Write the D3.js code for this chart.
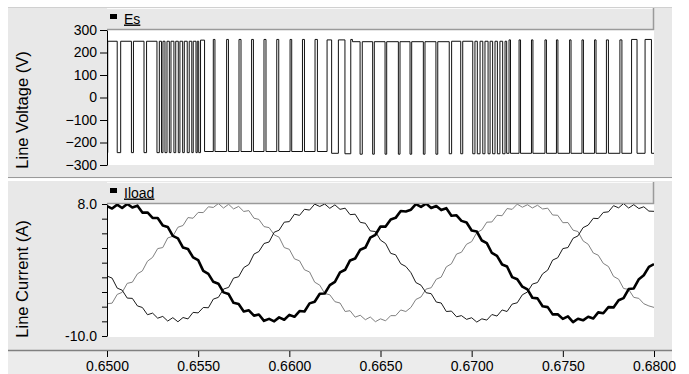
<!DOCTYPE html>
<html>
<head>
<meta charset="utf-8">
<script src="https://cdn.jsdelivr.net/npm/d3@7"></script>
<style>
  body { margin: 0; background: #fff; }
  figure { margin: 0; }
  text { font-family: "Liberation Sans", Arial, sans-serif; fill: #000; }
</style>
</head>
<body>
<figure id="scope"></figure>
<script>
// ---- data ----
const seriesNames = ["Es", "Iload"];

// Es: switching instants (s) and the level (V) held after each one
const esTime = [
  0.65000, 0.65004, 0.65056, 0.65075, 0.65134, 0.65145, 0.65203, 0.65217, 0.65274, 0.65287,
  0.65299, 0.65307, 0.65318, 0.65329, 0.65342, 0.65351, 0.65367, 0.65377, 0.65391, 0.65400,
  0.65415, 0.65424, 0.65440, 0.65451, 0.65465, 0.65473, 0.65488, 0.65495, 0.65503, 0.65513,
  0.65535, 0.65583, 0.65592, 0.65656, 0.65666, 0.65724, 0.65735, 0.65793, 0.65803, 0.65861,
  0.65872, 0.65931, 0.65942, 0.66004, 0.66013, 0.66072, 0.66083, 0.66141, 0.66154, 0.66207,
  0.66232, 0.66269, 0.66305, 0.66337, 0.66346, 0.66388, 0.66400, 0.66457, 0.66466, 0.66525,
  0.66534, 0.66598, 0.66607, 0.66662, 0.66671, 0.66735, 0.66744, 0.66804, 0.66814, 0.66877,
  0.66890, 0.66940, 0.66951, 0.67006, 0.67018, 0.67031, 0.67046, 0.67061, 0.67073, 0.67090,
  0.67101, 0.67115, 0.67128, 0.67141, 0.67155, 0.67170, 0.67183, 0.67192, 0.67205, 0.67213,
  0.67260, 0.67268, 0.67328, 0.67336, 0.67402, 0.67410, 0.67465, 0.67473, 0.67537, 0.67545,
  0.67605, 0.67613, 0.67674, 0.67682, 0.67739, 0.67750, 0.67813, 0.67824, 0.67877, 0.67907,
  0.67951, 0.67986, 0.68000
];
const esLevel = [
  -245, 250, -245, 250, -245, 250, -245, 250, -245, 250,
  -245, 250, -245, 250, -245, 250, -245, 250, -245, 250,
  -245, 250, -245, 250, -245, 250, -245, 250, -245, 255,
  -240, 258, -240, 258, -240, 258, -240, 258, -240, 258,
  -240, 258, -240, 258, -240, 258, -240, 258, -240, 256,
  -248, 256, -250, 258, 248, -252, 248, -252, 248, -252,
  248, -252, 248, -252, 248, -252, 248, -252, 248, -250,
  250, -250, 250, -250, 250, -250, 250, -250, 250, -250,
  250, -250, 250, -250, 250, -250, 250, -248, 256, -248,
  256, -248, 256, -248, 256, -248, 256, -248, 256, -248,
  256, -248, 256, -248, 256, -248, 256, -248, 258, -248,
  258, -248, -248
];

// Iload: sample times (s) and the three line currents (A)
const curTime = [
  0.65000, 0.65028, 0.65056, 0.65083, 0.65111, 0.65139, 0.65167, 0.65194, 0.65222, 0.65250, 0.65278, 0.65306, 0.65333, 0.65361, 0.65389, 0.65417, 0.65444, 0.65472,
  0.65500, 0.65528, 0.65556, 0.65583, 0.65611, 0.65639, 0.65667, 0.65694, 0.65722, 0.65750, 0.65778, 0.65806, 0.65833, 0.65861, 0.65889, 0.65917, 0.65944, 0.65972,
  0.66000, 0.66028, 0.66056, 0.66083, 0.66111, 0.66139, 0.66167, 0.66194, 0.66222, 0.66250, 0.66278, 0.66306, 0.66333, 0.66361, 0.66389, 0.66417, 0.66444, 0.66472,
  0.66500, 0.66528, 0.66556, 0.66583, 0.66611, 0.66639, 0.66667, 0.66694, 0.66722, 0.66750, 0.66778, 0.66806, 0.66833, 0.66861, 0.66889, 0.66917, 0.66944, 0.66972,
  0.67000, 0.67028, 0.67056, 0.67083, 0.67111, 0.67139, 0.67167, 0.67194, 0.67222, 0.67250, 0.67278, 0.67306, 0.67333, 0.67361, 0.67389, 0.67417, 0.67444, 0.67472,
  0.67500, 0.67528, 0.67556, 0.67583, 0.67611, 0.67639, 0.67667, 0.67694, 0.67722, 0.67750, 0.67778, 0.67806, 0.67833, 0.67861, 0.67889, 0.67917, 0.67944, 0.67972,
  0.68000
];
const iloadA = [
  7.72, 7.38, 7.91, 7.45, 8.01, 7.53, 7.77, 6.83, 6.85, 6.11, 6.10, 5.07, 4.88, 3.65, 3.32, 2.06, 1.87, 0.72,
  0.35, -1.12, -1.52, -2.61, -2.87, -4.05, -4.28, -5.47, -5.65, -6.66, -6.50, -7.23, -7.07, -7.93, -7.66, -8.00, -7.46, -7.78,
  -7.12, -7.38, -6.60, -6.66, -5.55, -5.32, -4.23, -4.20, -3.07, -2.61, -1.32, -0.97, 0.30, 0.57, 1.77, 2.06, 3.42, 3.80,
  4.93, 4.92, 5.90, 6.11, 7.05, 6.98, 7.22, 7.98, 7.61, 8.05, 7.46, 7.73, 7.17, 7.43, 6.40, 6.46, 5.70, 5.47,
  4.38, 4.25, 3.02, 2.66, 1.32, 0.92, -0.25, -0.52, -1.97, -2.26, -3.27, -3.65, -4.78, -4.87, -5.95, -6.06, -7.05, -7.03,
  -7.67, -7.33, -8.11, -7.65, -7.86, -7.38, -7.62, -6.78, -6.90, -6.06, -6.10, -5.12, -4.83, -3.60, -3.52, -2.26, -1.72, -0.57,
  -0.20
];
const iloadB = [
  -1.82, -2.11, -3.47, -3.75, -4.83, -4.87, -5.90, -6.11, -7.10, -6.88, -7.57, -7.33, -7.96, -7.50, -8.06, -7.48, -7.67, -6.78,
  -6.85, -6.11, -6.15, -4.97, -4.73, -3.60, -3.37, -2.11, -1.92, -0.67, -0.25, 1.17, 1.52, 2.61, 2.82, 4.15, 4.43, 5.52,
  5.60, 6.61, 6.45, 7.28, 7.17, 7.98, 7.66, 8.00, 7.41, 7.88, 7.27, 7.43, 6.55, 6.61, 5.50, 5.37, 4.33, 4.25,
  3.07, 2.61, 1.27, 1.07, -0.15, -0.52, -1.37, -2.71, -3.07, -4.10, -4.23, -5.37, -5.50, -6.66, -6.60, -7.38, -7.22, -7.73,
  -7.51, -8.10, -7.66, -7.83, -7.07, -7.28, -6.45, -6.66, -5.65, -5.47, -4.38, -4.00, -2.92, -2.71, -1.52, -1.02, 0.35, 0.67,
  1.92, 2.06, 3.32, 3.65, 4.78, 5.12, 6.05, 6.01, 6.85, 6.93, 7.77, 7.48, 8.06, 7.45, 7.91, 7.38, 7.62, 7.03,
  7.00
];
const iloadC = [
  -5.60, -5.52, -4.33, -4.05, -2.82, -2.66, -1.52, -1.12, 0.20, 0.72, 1.92, 2.06, 3.37, 3.60, 4.83, 5.07, 6.15, 6.06,
  6.85, 6.83, 7.62, 7.53, 8.06, 7.45, 7.96, 7.33, 7.67, 6.98, 7.10, 6.06, 5.90, 4.92, 4.78, 3.80, 3.47, 2.06,
  1.82, 0.52, 0.25, -0.97, -1.27, -2.66, -3.07, -4.20, -4.38, -5.32, -5.50, -6.66, -6.55, -7.43, -7.17, -7.78, -7.41, -8.05,
  -7.66, -7.93, -7.22, -7.23, -6.45, -6.66, -6.10, -5.02, -4.68, -3.60, -3.42, -2.26, -1.97, -0.57, -0.15, 1.17, 1.42, 2.51,
  2.87, 4.10, 4.48, 5.52, 5.55, 6.46, 6.40, 7.38, 7.27, 7.98, 7.56, 7.90, 7.46, 7.83, 7.32, 7.43, 6.50, 6.46,
  5.45, 5.47, 4.43, 4.25, 2.97, 2.51, 1.32, 1.02, -0.10, -0.52, -1.87, -2.26, -3.52, -3.65, -4.73, -4.87, -5.60, -5.90,
  -6.10
];

// ticks
const voltTicks = [300, 200, 100, 0, -100, -200, -300];
const curTicks = [8, 6, 4, 2, 0, -2, -4, -6, -8, -10];
const curTickLabels = ["8.0", "", "", "", "", "", "", "", "", "-10.0"];
const timeTicks = [0.65, 0.655, 0.66, 0.665, 0.67, 0.675, 0.68];
const timeTickLabels = ["0.6500", "0.6550", "0.6600", "0.6650", "0.6700", "0.6750", "0.6800"];

// ---- layout ----
const width = 689, height = 374;
const plotL = 107, plotR = 654;
const panelL = 8, panelR = 672;
const top1 = 30, bot1 = 165;   // voltage plot box
const top2 = 204, bot2 = 336;  // current plot box
const axisY = 350;

const svg = d3.select("figure#scope")
  .append("svg")
  .attr("width", width)
  .attr("height", height);

// scales
const x = d3.scaleLinear().domain([0.65, 0.68]).range([plotL, plotR]);
const yV = d3.scaleLinear().domain([-300, 300]).range([bot1, top1]);
const yI = d3.scaleLinear().domain([-10, 8]).range([bot2, top2]);

// panel backgrounds
svg.append("rect").attr("x", panelL).attr("y", 7).attr("width", panelR - panelL).attr("height", 170).attr("fill", "#e8e8e8");
svg.append("rect").attr("x", panelL).attr("y", 181).attr("width", panelR - panelL).attr("height", axisY - 181).attr("fill", "#e8e8e8");
svg.append("rect").attr("x", panelL).attr("y", axisY).attr("width", panelR - panelL).attr("height", height - axisY).attr("fill", "#ececec");
svg.append("line").attr("x1", panelL).attr("x2", panelR).attr("y1", 177.5).attr("y2", 177.5).attr("stroke", "#9a9a9a");
svg.append("line").attr("x1", panelL).attr("x2", panelR).attr("y1", 178.5).attr("y2", 178.5).attr("stroke", "#fafafa");
svg.append("line").attr("x1", panelL).attr("x2", panelR).attr("y1", 7.5).attr("y2", 7.5).attr("stroke", "#d0d0d0");

// white plot boxes
svg.append("rect").attr("x", plotL).attr("y", top1).attr("width", plotR - plotL).attr("height", bot1 - top1).attr("fill", "#fff");
svg.append("rect").attr("x", plotL).attr("y", top2).attr("width", plotR - plotL).attr("height", bot2 - top2 + 1).attr("fill", "#fff");

// legend strips above each plot
function legendStrip(y0, y1, name) {
  const g = svg.append("g");
  g.append("rect").attr("x", plotL).attr("y", y0).attr("width", plotR - plotL).attr("height", y1 - y0).attr("fill", "#e8e8e8");
  g.append("line").attr("x1", plotL).attr("x2", plotR).attr("y1", y0 + 0.5).attr("y2", y0 + 0.5).attr("stroke", "#fbfbfb");
  g.append("line").attr("x1", plotL).attr("x2", plotR).attr("y1", y1 - 0.5).attr("y2", y1 - 0.5).attr("stroke", "#9a9a9a").attr("stroke-width", 1.5);
  g.append("line").attr("x1", plotR - 0.5).attr("x2", plotR - 0.5).attr("y1", y0).attr("y2", y1).attr("stroke", "#9a9a9a").attr("stroke-width", 1.5);
  g.append("rect").attr("x", 110).attr("y", y0 + 6).attr("width", 7).attr("height", 5).attr("fill", "#000");
  g.append("text").attr("x", 124).attr("y", y0 + 15.5)
    .attr("font-size", 14).style("text-decoration", "underline").text(name);
}
legendStrip(8, top1, seriesNames[0]);
legendStrip(182, top2, seriesNames[1]);

// clips
svg.append("clipPath").attr("id", "clipV").append("rect")
  .attr("x", plotL).attr("y", top1).attr("width", plotR - plotL).attr("height", bot1 - top1);
svg.append("clipPath").attr("id", "clipI").append("rect")
  .attr("x", plotL).attr("y", top2).attr("width", plotR - plotL).attr("height", bot2 - top2);

// Es trace
const esData = esTime.map((t, i) => [t, esLevel[i]]);
const esLine = d3.line().x(d => x(d[0])).y(d => yV(d[1])).curve(d3.curveStepAfter);
svg.append("path")
  .datum(esData)
  .attr("clip-path", "url(#clipV)")
  .attr("d", esLine)
  .attr("fill", "none")
  .attr("stroke", "#111")
  .attr("stroke-width", 1);

// Iload traces
const curLine = d3.line().x(d => x(d[0])).y(d => yI(d[1]));
const phases = [
  { values: iloadC, color: "#808080", w: 1 },
  { values: iloadB, color: "#1a1a1a", w: 1 },
  { values: iloadA, color: "#000", w: 2.6 }
];
phases.forEach(p => {
  svg.append("path")
    .datum(curTime.map((t, i) => [t, p.values[i]]))
    .attr("clip-path", "url(#clipI)")
    .attr("d", curLine)
    .attr("fill", "none")
    .attr("stroke", p.color)
    .attr("stroke-width", p.w)
    .attr("stroke-linejoin", "round");
});

// Y axes
function styleAxis(g) {
  g.selectAll("text").attr("font-family", "Liberation Sans, Arial, sans-serif").attr("font-size", 14).attr("fill", "#000");
  g.select(".domain").attr("stroke", "#000");
  g.selectAll(".tick line").attr("stroke", "#000");
}
svg.append("g")
  .attr("transform", "translate(" + plotL + ",0)")
  .call(d3.axisLeft(yV).tickValues(voltTicks).tickSize(7).tickSizeOuter(0).tickPadding(3))
  .call(styleAxis);
svg.append("g")
  .attr("transform", "translate(" + plotL + ",0)")
  .call(d3.axisLeft(yI).tickValues(curTicks).tickSize(5).tickSizeOuter(0).tickPadding(5)
    .tickFormat((d, i) => curTickLabels[i]))
  .call(styleAxis);

// X axis at bottom of lower panel
svg.append("line").attr("x1", panelL).attr("x2", panelR).attr("y1", axisY + 0.5).attr("y2", axisY + 0.5).attr("stroke", "#808080").attr("stroke-width", 1.5);
const xAxis = svg.append("g")
  .attr("transform", "translate(0," + (axisY + 1) + ")")
  .call(d3.axisBottom(x).tickValues(timeTicks).tickSize(6).tickPadding(4)
    .tickFormat((d, i) => timeTickLabels[i]))
  .call(styleAxis);
xAxis.select(".domain").remove();

// axis titles
svg.append("text")
  .attr("transform", "translate(28,110) rotate(-90)")
  .attr("text-anchor", "middle")
  .attr("font-size", 16.5)
  .text("Line Voltage (V)");
svg.append("text")
  .attr("transform", "translate(28,279) rotate(-90)")
  .attr("text-anchor", "middle")
  .attr("font-size", 16.5)
  .text("Line Current (A)");
</script>
</body>
</html>
